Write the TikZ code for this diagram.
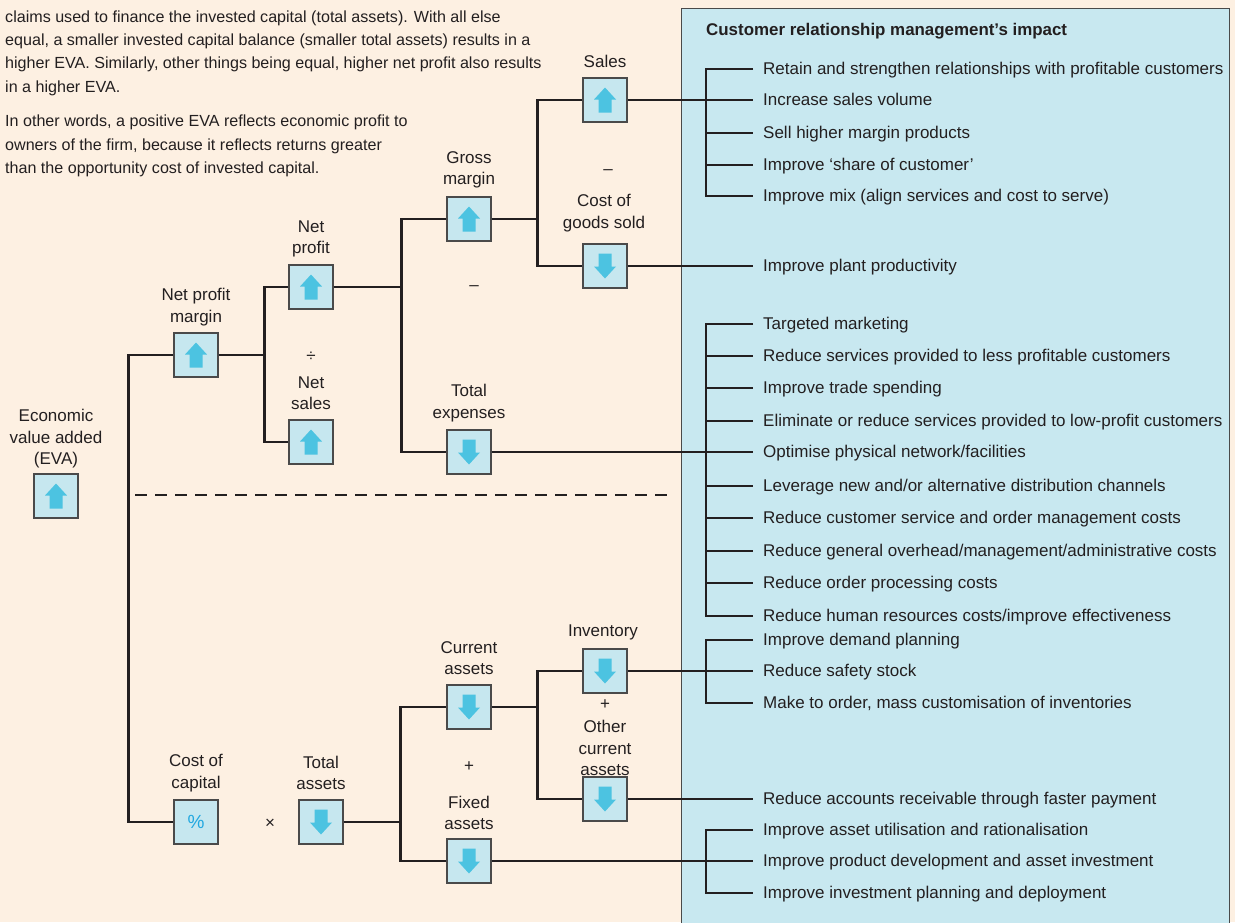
\documentclass[tikz,border=0pt]{standalone}
\usepackage{fontspec}
\setmainfont{Liberation Sans}
\definecolor{paper}{HTML}{FDF0E2}
\definecolor{panelbg}{HTML}{C8E8F0}
\definecolor{boxbg}{HTML}{C6E7EF}
\definecolor{arrowc}{HTML}{4CC3E1}
\definecolor{pctc}{HTML}{22A8E0}
\definecolor{ink}{HTML}{231F20}
\definecolor{rim}{HTML}{4A4A4A}
\begin{document}
\begin{tikzpicture}[x=1pt,y=-1pt,
  conn/.style={draw=ink,line width=2.6pt},
  kpi/.style={draw=rim,line width=1.2pt,fill=boxbg,minimum size=44pt,inner sep=0pt},
  lbl/.style={text=ink,align=center,inner sep=0pt,font=\fontsize{17}{21.5}\selectfont},
  item/.style={text=ink,anchor=base west,yshift=-5.5pt,inner sep=0pt,font=\fontsize{17}{20}\selectfont},
  para/.style={text=ink,anchor=base west,inner sep=0pt,font=\fontsize{16.1}{20}\selectfont},
  uparrow/.pic={\fill[arrowc] (0,-12.5) -- (11,-0.5) -- (6.5,-0.5) -- (6.5,12.5) -- (-6.5,12.5) -- (-6.5,-0.5) -- (-11,-0.5) -- cycle;},
  downarrow/.pic={\fill[arrowc] (0,12.5) -- (11,0.5) -- (6.5,0.5) -- (6.5,-12.5) -- (-6.5,-12.5) -- (-6.5,0.5) -- (-11,0.5) -- cycle;}
]
\useasboundingbox (0,0) rectangle (1235,922);
\clip (0,0) rectangle (1235,922);
\fill[paper] (0,0) rectangle (1235,922);

% right-hand panel
\fill[panelbg] (681,8) rectangle (1229,930);
\draw[rim,line width=1pt] (681,930) -- (681,8) -- (1229,8) -- (1229,930);
\node[text=ink,anchor=base west,inner sep=0pt,font=\fontsize{16.9}{20}\selectfont\bfseries] (hdr) at (706,35.5) {Customer relationship management’s impact};

% explanatory paragraphs
\node[para] (p1) at (5,22) {claims used to finance the invested capital (total assets). With all else};
\node[para] (p2) at (5,45.5) {equal, a smaller invested capital balance (smaller total assets) results in a};
\node[para] (p3) at (5,68.5) {higher EVA. Similarly, other things being equal, higher net profit also results};
\node[para] (p4) at (5,92) {in a higher EVA.};
\node[para] (p5) at (5,126) {In other words, a positive EVA reflects economic profit to};
\node[para] (p6) at (5,150) {owners of the firm, because it reflects returns greater};
\node[para] (p7) at (5,173.5) {than the opportunity cost of invested capital.};

% impact list
\node[item] (a1) at (763,69)  {Retain and strengthen relationships with profitable customers};
\node[item] (a2) at (763,100) {Increase sales volume};
\node[item] (a3) at (763,133) {Sell higher margin products};
\node[item] (a4) at (763,165) {Improve ‘share of customer’};
\node[item] (a5) at (763,196) {Improve mix (align services and cost to serve)};
\node[item] (b1) at (763,266) {Improve plant productivity};
\node[item] (c1) at (763,324) {Targeted marketing};
\node[item] (c2) at (763,356) {Reduce services provided to less profitable customers};
\node[item] (c3) at (763,388) {Improve trade spending};
\node[item] (c4) at (763,421) {Eliminate or reduce services provided to low-profit customers};
\node[item] (c5) at (763,452) {Optimise physical network/facilities};
\node[item] (c6) at (763,486) {Leverage new and/or alternative distribution channels};
\node[item] (c7) at (763,518) {Reduce customer service and order management costs};
\node[item] (c8) at (763,551) {Reduce general overhead/management/administrative costs};
\node[item] (c9) at (763,583) {Reduce order processing costs};
\node[item] (c10) at (763,616) {Reduce human resources costs/improve effectiveness};
\node[item] (d1) at (763,640) {Improve demand planning};
\node[item] (d2) at (763,671) {Reduce safety stock};
\node[item] (d3) at (763,703) {Make to order, mass customisation of inventories};
\node[item] (e1) at (763,799) {Reduce accounts receivable through faster payment};
\node[item] (f1) at (763,830) {Improve asset utilisation and rationalisation};
\node[item] (f2) at (763,861) {Improve product development and asset investment};
\node[item] (f3) at (763,893) {Improve investment planning and deployment};

% tick end (t) and bracket spine point (s) beside each measure
\foreach \n in {a1,a2,a3,a4,a5,b1,c1,c2,c3,c4,c5,c6,c7,c8,c9,c10,d1,d2,d3,e1,f1,f2,f3}{
  \coordinate (\n t) at ([xshift=-10pt,yshift=5.5pt]\n.base west);
  \coordinate (\n s) at ([xshift=-57pt,yshift=5.5pt]\n.base west);
}

% brackets gathering each group of measures
\foreach \first/\last/\mids in {a1/a5/{a2,a3,a4}, c1/c10/{c2,c3,c4,c5,c6,c7,c8,c9}, d1/d3/{d2}, f1/f3/{f2}}{
  \draw[conn] (\first t) -- (\first s) -- (\last s) -- (\last t);
  \foreach \m in \mids {\draw[conn] (\m s) -- (\m t);}
}

% value driver boxes
\node[kpi] (eva) at (56,496) {};
\node[kpi] (npm) at (196,355) {};
\node[kpi] (np) at (311,287) {};
\node[kpi] (ns) at (311,442) {};
\node[kpi] (gm) at (469,219) {};
\node[kpi] (te) at (469,452) {};
\node[kpi] (sales) at (605,100) {};
\node[kpi] (cogs) at (605,266) {};
\node[kpi] (coc) at (196,822) {};
\node[kpi] (ta) at (321,822) {};
\node[kpi] (ca) at (469,707) {};
\node[kpi] (fa) at (469,861) {};
\node[kpi] (inv) at (605,671) {};
\node[kpi] (oca) at (605,799) {};

% tree connectors
\draw[conn] (npm.west) -- ++(-45,0) |- (coc.west);
\draw[conn] (npm.east) -- ++(46,0) |- (np.west);
\draw[conn] (npm.east) -- ++(46,0) |- (ns.west);
\draw[conn] (np.east) -- ++(68,0) |- (gm.west);
\draw[conn] (np.east) -- ++(68,0) |- (te.west);
\draw[conn] (gm.east) -- ++(46,0) |- (sales.west);
\draw[conn] (gm.east) -- ++(46,0) |- (cogs.west);
\draw[conn] (ta.east) -- ++(57,0) |- (ca.west);
\draw[conn] (ta.east) -- ++(57,0) |- (fa.west);
\draw[conn] (ca.east) -- ++(46,0) |- (inv.west);
\draw[conn] (ca.east) -- ++(46,0) |- (oca.west);
\draw[conn] (sales.east) -- (a2t);
\draw[conn] (cogs.east) -- (b1t);
\draw[conn] (te.east) -- (c5t);
\draw[conn] (inv.east) -- (d2t);
\draw[conn] (oca.east) -- (e1t);
\draw[conn] (fa.east) -- (f2t);

% separator between the profit and the capital branches
\draw[ink,line width=2.8pt,dash pattern=on 12pt off 8pt] (135,495) -- (672,495);

% direction arrows in the boxes
\foreach \n in {eva,npm,np,ns,gm,sales}{\pic at (\n) {uparrow};}
\foreach \n in {te,cogs,ta,ca,fa,inv,oca}{\pic at (\n) {downarrow};}
\node[text=pctc,inner sep=0pt,font=\fontsize{19}{20}\selectfont] (pct) at (coc) {\%};

% labels
\node[lbl] (leva) at (56,439) {Economic\\value added\\(EVA)};
\node[lbl] (lnpm) at (196,307) {Net profit\\margin};
\node[lbl] (lnp) at (311,239) {Net\\profit};
\node[lbl] (ldiv) at (311,357) {÷};
\node[lbl] (lns) at (311,393) {Net\\sales};
\node[lbl] (lgm) at (469,170) {Gross\\margin};
\node[lbl] (lmin1) at (474,288) {–};
\node[lbl] (lte) at (469,403) {Total\\expenses};
\node[lbl] (lsales) at (605,61) {Sales};
\node[lbl] (lmin2) at (608,172) {–};
\node[lbl] (lcogs) at (604,213) {Cost of\\goods sold};
\node[lbl] (lcoc) at (196,773) {Cost of\\capital};
\node[lbl] (ltimes) at (270,824) {×};
\node[lbl] (lta) at (321,773) {Total\\assets};
\node[lbl] (lca) at (469,658) {Current\\assets};
\node[lbl] (lplus1) at (469,767) {+};
\node[lbl] (lfa) at (469,813) {Fixed\\assets};
\node[lbl] (linv) at (603,632) {Inventory};
\node[lbl] (lplus2) at (605,705) {+};
\node[lbl] (loca) at (605,748) {Other\\current\\assets};
\end{tikzpicture}
\end{document}
